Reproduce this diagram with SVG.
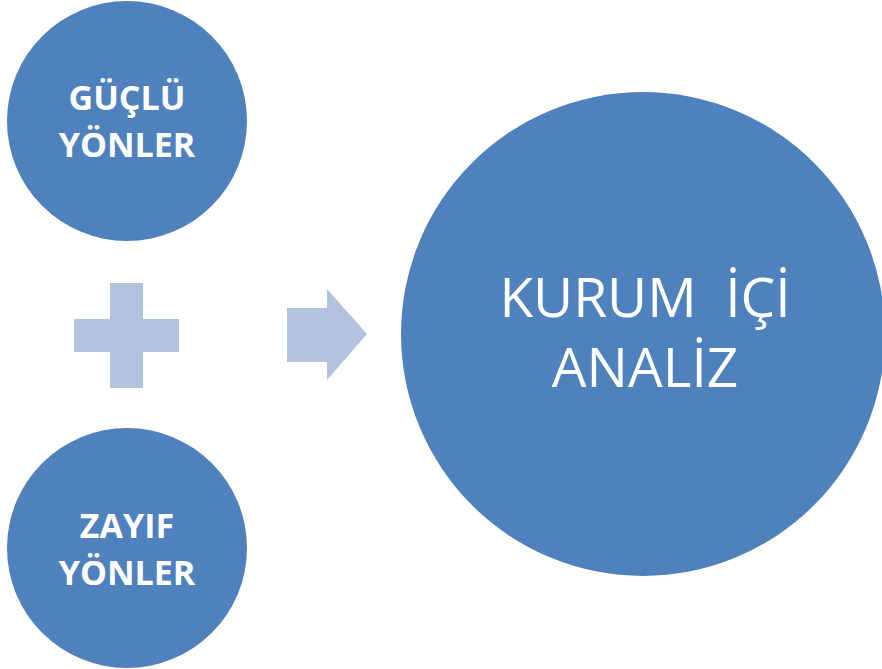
<svg xmlns="http://www.w3.org/2000/svg" width="882" height="669" viewBox="0 0 882 669">
<style>
.node{fill:#4F81BD}
.op{fill:#B3C3DD}
.sm{font-family:"Open Sans","Liberation Sans",sans-serif;font-weight:bold;font-size:34px;fill:#FFFFFF;text-anchor:middle}
.lg{font-family:"Open Sans","Liberation Sans",sans-serif;font-size:55px;fill:#FFFFFF;text-anchor:middle}
</style>
<rect width="882" height="669" fill="#FFFFFF"/>
<g id="guclu">
<circle class="node" cx="127" cy="121" r="120"/>
<text class="sm" x="127" y="110">GÜÇLÜ</text>
<text class="sm" x="127" y="157">YÖNLER</text>
</g>
<g id="zayif">
<circle class="node" cx="127" cy="548" r="120"/>
<text class="sm" x="127" y="538">ZAYIF</text>
<text class="sm" x="127" y="585">YÖNLER</text>
</g>
<g id="connectors">
<path id="plus" class="op" d="M110 283H143V319H179V352H143V388H110V352H74V319H110Z"/>
<path id="arrow" class="op" d="M287 308H327V289L367 334L327 380V362H287Z"/>
</g>
<g id="kurum">
<circle class="node" cx="643" cy="334" r="242"/>
<text class="lg" x="645" y="317">KURUM&#160; İÇİ</text>
<text class="lg" x="645" y="387">ANALİZ</text>
</g>
</svg>
